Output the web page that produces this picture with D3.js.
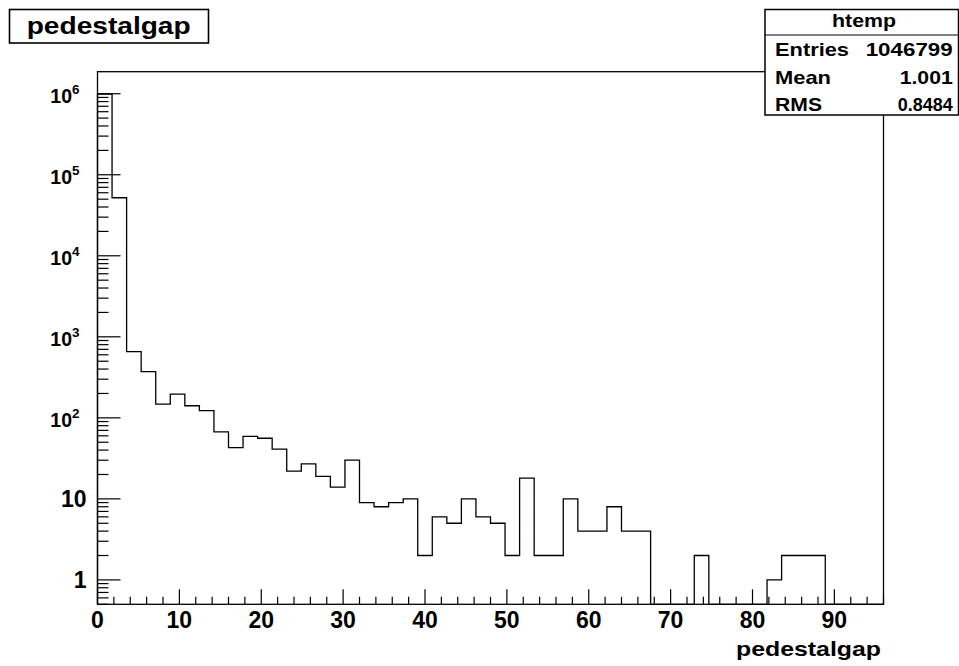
<!DOCTYPE html>
<html>
<head>
<meta charset="utf-8">
<script src="https://cdn.jsdelivr.net/npm/d3@7"></script>
<style>
  body { margin: 0; background: #fff; }
  text { font-family: "Liberation Sans", Arial, Helvetica, sans-serif; font-weight: bold; fill: #000; }
</style>
</head>
<body>
<svg id="chart"></svg>
<script>
// histogram: 54 bins from 0 to 96
const xRange = [0, 96];
const counts = [992500, 52000, 656, 372, 148, 196, 141, 123, 67, 43,
                59, 56, 41, 22, 27, 19, 14, 30, 9, 8,
                9, 10, 2, 6, 5, 10, 6, 5, 2, 18,
                2, 2, 10, 4, 4, 8, 4, 4, 0, 0,
                0, 2, 0, 0, 0, 0, 1, 2, 2, 2,
                0, 0, 0, 0];
const xTicks = [0, 10, 20, 30, 40, 50, 60, 70, 80, 90];
const yTicks = [1, 10, 100, 1000, 10000, 100000, 1000000];
const statNames = ["Entries", "Mean", "RMS"];
const statValues = ["1046799", "1.001", "0.8484"];

const width = 959, height = 666;
const frame = { left: 97.5, right: 883.5, top: 71.7, bottom: 604.3 };

const svg = d3.select("#chart")
    .attr("width", width)
    .attr("height", height);

const x = d3.scaleLinear().domain(xRange).range([frame.left, frame.right]);
const y = d3.scaleLog().domain([0.5, 1.87e6]).range([frame.bottom, frame.top]);

const binWidth = (xRange[1] - xRange[0]) / counts.length;

// frame
svg.append("rect")
    .attr("x", frame.left).attr("y", frame.top)
    .attr("width", frame.right - frame.left)
    .attr("height", frame.bottom - frame.top)
    .attr("fill", "none").attr("stroke", "#000").attr("stroke-width", 1.3);

// histogram outline as steps
const yv = v => v > 0 ? y(v) : frame.bottom;
let d = `M${x(xRange[0])},${frame.bottom}`;
counts.forEach((c, i) => {
    const x0 = x(xRange[0] + i * binWidth), x1 = x(xRange[0] + (i + 1) * binWidth);
    d += `L${x0},${yv(c)}L${x1},${yv(c)}`;
});
d += `L${x(xRange[1])},${frame.bottom}`;
svg.append("path")
    .attr("d", d)
    .attr("fill", "none")
    .attr("stroke", "#000")
    .attr("stroke-width", 1.3);

// y ticks (inside, on the left)
const yMinor = [];
[0.1, 1, 10, 100, 1000, 10000, 100000, 1000000].forEach(p => {
    for (let m = 2; m <= 9; m++) {
        const v = p * m;
        if (v >= y.domain()[0] && v <= y.domain()[1]) yMinor.push(v);
    }
});
svg.append("g").selectAll("line").data(yMinor).enter().append("line")
    .attr("x1", frame.left).attr("x2", frame.left + 11)
    .attr("y1", d => y(d)).attr("y2", d => y(d))
    .attr("stroke", "#000").attr("stroke-width", 1.2);
svg.append("g").selectAll("line").data(yTicks).enter().append("line")
    .attr("x1", frame.left).attr("x2", frame.left + 23)
    .attr("y1", d => y(d)).attr("y2", d => y(d))
    .attr("stroke", "#000").attr("stroke-width", 1.2);

// y labels: plain for 1 and 10, 10^n above
yTicks.forEach(v => {
    const p = Math.round(Math.log10(v));
    if (p < 2) {
        svg.append("text")
            .attr("x", 86.5).attr("y", y(v) + 8.5)
            .attr("text-anchor", "end")
            .style("font-size", "23px")
            .text(String(v));
    } else {
        const t = svg.append("text")
            .attr("x", 79.5).attr("y", y(v) + 9.3)
            .attr("text-anchor", "end")
            .style("font-size", "19.5px");
        t.append("tspan").text("10");
        t.append("tspan").attr("dy", -9.5).style("font-size", "13.5px").text(String(p));
    }
});

// x ticks (inside, at the bottom)
const xMinor = d3.range(0, 97, 2).filter(v => v % 10 !== 0);
svg.append("g").selectAll("line").data(xMinor).enter().append("line")
    .attr("x1", d => x(d)).attr("x2", d => x(d))
    .attr("y1", frame.bottom).attr("y2", frame.bottom - 7.5)
    .attr("stroke", "#000").attr("stroke-width", 1.2);
svg.append("g").selectAll("line").data(xTicks).enter().append("line")
    .attr("x1", d => x(d)).attr("x2", d => x(d))
    .attr("y1", frame.bottom).attr("y2", frame.bottom - 15)
    .attr("stroke", "#000").attr("stroke-width", 1.2);
svg.append("g").selectAll("text").data(xTicks).enter().append("text")
    .attr("x", d => x(d)).attr("y", 628)
    .attr("text-anchor", "middle")
    .style("font-size", "23px")
    .text(d => d);

// x axis title
svg.append("text")
    .attr("x", 881).attr("y", 656)
    .attr("text-anchor", "end")
    .attr("textLength", 145).attr("lengthAdjust", "spacingAndGlyphs")
    .style("font-size", "21px")
    .text("pedestalgap");

// title box
svg.append("rect")
    .attr("x", 9.5).attr("y", 9.5).attr("width", 199).attr("height", 33.5)
    .attr("fill", "#fff").attr("stroke", "#000").attr("stroke-width", 1.6);
svg.append("text")
    .attr("x", 26.7).attr("y", 34)
    .attr("textLength", 164).attr("lengthAdjust", "spacingAndGlyphs")
    .style("font-size", "23px")
    .text("pedestalgap");

// stats box
const sb = { left: 765, top: 9.5, right: 958.5, bottom: 115 };
svg.append("rect")
    .attr("x", sb.left).attr("y", sb.top)
    .attr("width", sb.right - sb.left).attr("height", sb.bottom - sb.top)
    .attr("fill", "#fff").attr("stroke", "#000").attr("stroke-width", 1.5);
svg.append("line")
    .attr("x1", sb.left).attr("x2", sb.right)
    .attr("y1", 35).attr("y2", 35)
    .attr("stroke", "#000").attr("stroke-width", 1.2);
svg.append("text")
    .attr("x", 864).attr("y", 27)
    .attr("text-anchor", "middle")
    .attr("textLength", 64).attr("lengthAdjust", "spacingAndGlyphs")
    .style("font-size", "18.5px")
    .text("htemp");

const nameWidths = [74, 56, 47];
const valueWidths = [87, 53, 55];
statNames.forEach((n, i) => {
    const base = 56 + i * 27.5;
    svg.append("text")
        .attr("x", 775).attr("y", base)
        .attr("textLength", nameWidths[i]).attr("lengthAdjust", "spacingAndGlyphs")
        .style("font-size", "18.5px")
        .text(n);
    svg.append("text")
        .attr("x", 952.7).attr("y", base)
        .attr("text-anchor", "end")
        .attr("textLength", valueWidths[i]).attr("lengthAdjust", "spacingAndGlyphs")
        .style("font-size", "18.5px")
        .text(statValues[i]);
});
</script>
</body>
</html>
